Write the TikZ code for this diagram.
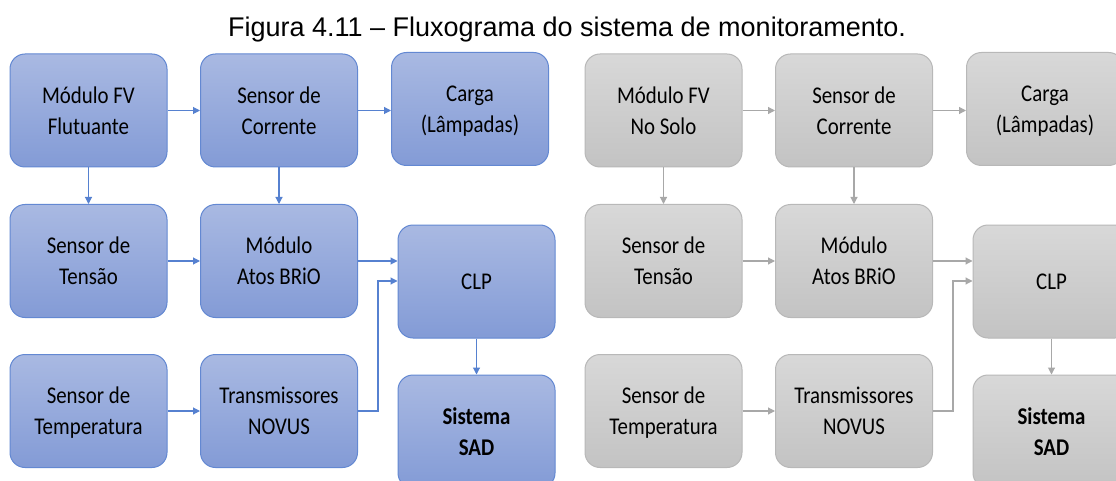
\documentclass[tikz,border=0pt]{standalone}
\usepackage{fontspec}
\setmainfont{Carlito}
\newfontfamily\boxfont[FakeStretch=0.87]{Carlito}
\newfontfamily\titlefont{Liberation Sans}
\usetikzlibrary{arrows.meta}
\definecolor{bluetop}{HTML}{A9B9E2}
\definecolor{bluebot}{HTML}{839BD6}
\definecolor{blueline}{HTML}{6388D2}
\definecolor{bluearrow}{HTML}{5681D0}
\definecolor{graytop}{HTML}{D8D8D8}
\definecolor{graybot}{HTML}{C3C3C3}
\definecolor{grayline}{HTML}{B8B8B8}
\definecolor{grayarrow}{HTML}{A8A8A8}
\begin{document}
\begin{tikzpicture}[x=1pt,y=-1pt,
 box/.style={rounded corners=15pt, minimum width=157pt, minimum height=113pt, align=center,
   font=\boxfont\fontsize{24}{31}\selectfont, line width=1pt, inner sep=0pt, text=black,
   text depth=0pt},
 bluebox/.style={box, draw=blueline, top color=bluetop, bottom color=bluebot},
 graybox/.style={box, draw=grayline, top color=graytop, bottom color=graybot},
 bluearr/.style={draw=bluearrow, line width=1.1pt, -{Triangle[length=7pt,width=7pt]}},
 grayarr/.style={draw=grayarrow, line width=1.1pt, -{Triangle[length=7pt,width=7pt]}},
 boldtext/.style={font=\boxfont\bfseries\fontsize{24}{31}\selectfont},
]
\useasboundingbox (0,0) rectangle (1116,481);
\clip (0,0) rectangle (1116,481);
\fill[white] (0,0) rectangle (1116,481);

\node[font=\titlefont\fontsize{27}{30}\selectfont, anchor=base] (title) at (567,37)
  {Figura 4.11 – Fluxograma do sistema de monitoramento.};

% ---------- left panel (blue) ----------
\node[bluebox] (LA1) at (88.5,110.5) {Módulo FV\\Flutuante};
\node[bluebox] (LA2) at (279,110.5) {Sensor de\\Corrente};
\node[bluebox] (LA3) at (470,109) {Carga\\(Lâmpadas)};
\node[bluebox] (LB1) at (88.5,261) {Sensor de\\Tensão};
\node[bluebox] (LB2) at (279,261) {Módulo\\Atos BRiO};
\node[bluebox] (LC)  at (476.5,281.5) {CLP};
\node[bluebox] (LD1) at (88.5,411) {Sensor de\\Temperatura};
\node[bluebox] (LD2) at (279,411) {Transmissores\\NOVUS};
\node[bluebox, boldtext] (LS) at (476.5,431.5) {Sistema\\SAD};
\coordinate (Lj) at (378,281);

\draw[bluearr] (LA1.east) -- (LA2.west);
\draw[bluearr] (LA2.east) -- (LA2.east -| LA3.west);
\draw[bluearr] (LA1.south) -- (LB1.north);
\draw[bluearr] (LA2.south) -- (LB2.north);
\draw[bluearr] (LB1.east) -- (LB2.west);
\draw[bluearr] (LD1.east) -- (LD2.west);
\draw[bluearr] (LB2.east) -- (LB2.east -| LC.west);
\draw[bluearr] (LD2.east) -- (LD2.east -| Lj) -- (Lj) -- (Lj -| LC.west);
\draw[bluearr] (LC.south) -- (LS.north);

% ---------- right panel (gray) ----------
\node[graybox] (RA1) at (663.5,110.5) {Módulo FV\\No Solo};
\node[graybox] (RA2) at (854,110.5) {Sensor de\\Corrente};
\node[graybox] (RA3) at (1045,109) {Carga\\(Lâmpadas)};
\node[graybox] (RB1) at (663.5,261) {Sensor de\\Tensão};
\node[graybox] (RB2) at (854,261) {Módulo\\Atos BRiO};
\node[graybox] (RC)  at (1051.5,281.5) {CLP};
\node[graybox] (RD1) at (663.5,411) {Sensor de\\Temperatura};
\node[graybox] (RD2) at (854,411) {Transmissores\\NOVUS};
\node[graybox, boldtext] (RS) at (1051.5,431.5) {Sistema\\SAD};
\coordinate (Rj) at (953,281);

\draw[grayarr] (RA1.east) -- (RA2.west);
\draw[grayarr] (RA2.east) -- (RA2.east -| RA3.west);
\draw[grayarr] (RA1.south) -- (RB1.north);
\draw[grayarr] (RA2.south) -- (RB2.north);
\draw[grayarr] (RB1.east) -- (RB2.west);
\draw[grayarr] (RD1.east) -- (RD2.west);
\draw[grayarr] (RB2.east) -- (RB2.east -| RC.west);
\draw[grayarr] (RD2.east) -- (RD2.east -| Rj) -- (Rj) -- (Rj -| RC.west);
\draw[grayarr] (RC.south) -- (RS.north);
\end{tikzpicture}
\end{document}
